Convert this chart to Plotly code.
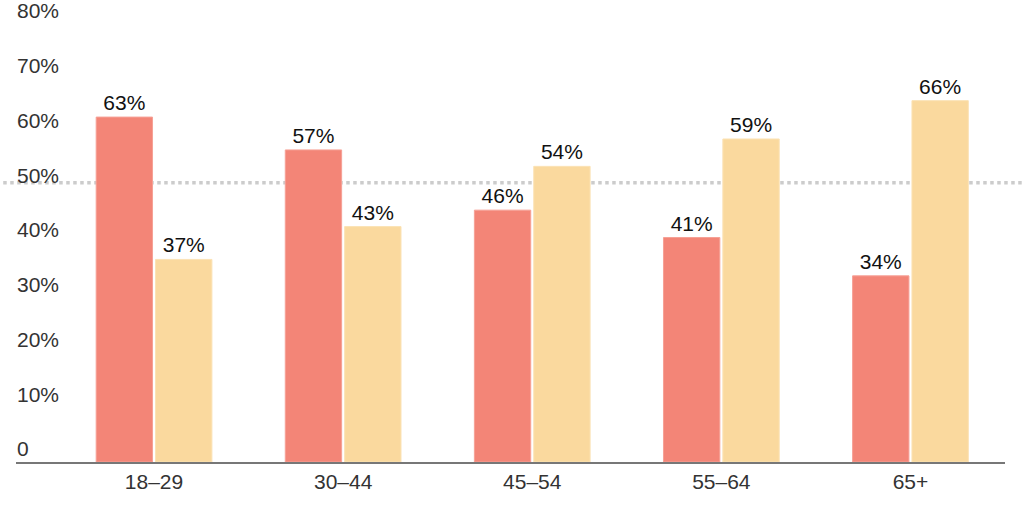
import plotly.graph_objects as go

categories = ["18–29", "30–44", "45–54", "55–64", "65+"]
series_a = [63, 57, 46, 41, 34]
series_b = [37, 43, 54, 59, 66]
reference_line = 51
y_ticks = [0, 10, 20, 30, 40, 50, 60, 70, 80]
y_tick_labels = ["0", "10%", "20%", "30%", "40%", "50%", "60%", "70%", "80%"]

font_family = "Liberation Sans, Arial, sans-serif"
fs = 21

fig = go.Figure()
fig.add_trace(go.Bar(
    x=categories, y=series_a, width=0.298, offset=-0.306,
    marker=dict(color="#F38577", line=dict(color="#F6A196", width=1)),
    text=[f"{v}%" for v in series_a], textposition="outside",
    textfont=dict(size=fs, color="#111111", family=font_family),
    cliponaxis=False, showlegend=False, hoverinfo="skip",
))
fig.add_trace(go.Bar(
    x=categories, y=series_b, width=0.298, offset=0.008,
    marker=dict(color="#FAD99E", line=dict(color="#FBE2B5", width=1)),
    text=[f"{v}%" for v in series_b], textposition="outside",
    textfont=dict(size=fs, color="#111111", family=font_family),
    cliponaxis=False, showlegend=False, hoverinfo="skip",
))

fig.add_shape(type="line", xref="paper", yref="y", x0=-0.02, x1=1.02,
              y0=reference_line, y1=reference_line,
              line=dict(color="#CCCCCC", width=3.5, dash="dot"), layer="below")

fig.update_layout(
    width=1024, height=512,
    margin=dict(l=16, r=19, t=24, b=50),
    paper_bgcolor="white", plot_bgcolor="white",
    font=dict(family=font_family, size=fs, color="#333333"),
    uniformtext=dict(minsize=fs, mode="show"),
    xaxis=dict(
        range=[-0.73, 4.5], showgrid=False, showline=True,
        linecolor="#777777", linewidth=1.5, ticks="",
        tickfont=dict(size=fs, color="#333333"), fixedrange=True,
    ),
    yaxis=dict(
        range=[0, 80], tickvals=y_ticks, ticktext=y_tick_labels,
        showgrid=False, zeroline=False, showline=False,
        side="right", anchor="free", position=0, automargin=False,
        ticklabelposition="outside", ticklabelshift=-13,
        ticklabeloverflow="allow", ticks="",
        tickfont=dict(size=fs, color="#333333"), fixedrange=True,
    ),
)

fig.write_html(
    "out.html",
    config={"displayModeBar": False},
    post_script="document.body.style.margin='0';document.body.style.padding='0';",
)
